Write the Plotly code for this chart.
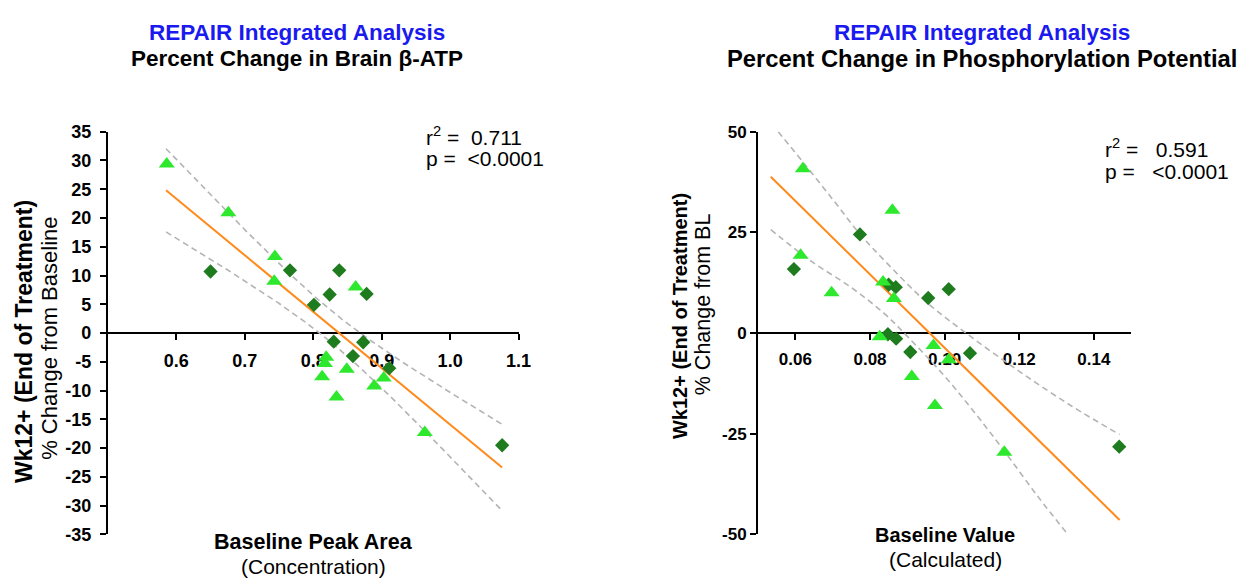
import math
import numpy as np
import plotly.graph_objects as go

W, H = 1257, 585

# ---------------- data: left panel (Brain beta-ATP) ----------------
atp_tri_x = [0.586, 0.676, 0.744, 0.743, 0.862, 0.819, 0.817, 0.813, 0.849, 0.834, 0.889, 0.903, 0.963]
atp_tri_y = [29.4, 20.9, 13.3, 9.0, 8.0, -4.2, -5.3, -7.6, -6.3, -11.1, -9.2, -7.8, -17.3]
atp_dia_x = [0.650, 0.766, 0.838, 0.824, 0.878, 0.801, 0.830, 0.873, 0.858, 0.911, 1.076]
atp_dia_y = [10.7, 10.9, 10.9, 6.7, 6.8, 4.9, -1.5, -1.6, -4.0, -6.1, -19.5]
atp_fit_span = [0.585, 1.076]
atp_xticks = [0.6, 0.7, 0.8, 0.9, 1.0, 1.1]
atp_xticktext = ["0.6", "0.7", "0.8", "0.9", "1.0", "1.1"]
atp_yticks = [-35, -30, -25, -20, -15, -10, -5, 0, 5, 10, 15, 20, 25, 30, 35]
atp_yticktext = ["-35", "-30", "-25", "-20", "-15", "-10", "-5", "0", "5", "10", "15", "20", "25", "30", "35"]

# ---------------- data: right panel (Phosphorylation potential) ----------------
pp_tri_x = [0.0620, 0.0614, 0.0697, 0.0860, 0.0835, 0.0864, 0.0826, 0.0970, 0.1011, 0.0912, 0.0974, 0.1160]
pp_tri_y = [40.8, 19.3, 10.0, 30.5, 12.7, 8.6, -0.9, -3.1, -6.6, -10.8, -18.0, -29.6]
pp_dia_x = [0.0596, 0.0773, 0.0850, 0.0869, 0.0956, 0.1011, 0.0848, 0.0870, 0.0908, 0.1068, 0.1468]
pp_dia_y = [15.9, 24.5, 12.0, 11.4, 8.7, 10.9, -0.3, -1.4, -4.7, -5.0, -28.2]
# regression line and 95% band as drawn in the reference
pp_fit_x = [0.0534, 0.1469]
pp_fit_y = [38.8, -46.4]
pp_ci_up_x = [0.0554, 0.0620, 0.0700, 0.0773, 0.0842, 0.0950, 0.1063, 0.1200, 0.1340, 0.1469]
pp_ci_up_y = [50.0, 42.5, 33.2, 24.6, 17.7, 7.8, -0.4, -9.5, -18.1, -25.2]
pp_ci_lo_x = [0.0534, 0.0640, 0.0750, 0.0840, 0.0904, 0.1000, 0.1080, 0.1160, 0.1250, 0.1325]
pp_ci_lo_y = [25.7, 18.0, 11.3, 4.7, -1.2, -10.7, -19.7, -29.3, -40.6, -49.4]
pp_xticks = [0.06, 0.08, 0.10, 0.12, 0.14]
pp_xticktext = ["0.06", "0.08", "0.10", "0.12", "0.14"]
pp_yticks = [-50, -25, 0, 25, 50]
pp_yticktext = ["-50", "-25", "0", "25", "50"]

TRI_COLOR = "#2EE82E"
DIA_COLOR = "#1E7B1E"
FIT_COLOR = "#FF8A1C"
CI_COLOR = "#B4B4B4"
FONT = "Liberation Sans, Arial, Helvetica, sans-serif"


def t_crit_975(df):
    g = np.linspace(0, 12, 240001)
    c = math.exp(math.lgamma((df + 1) / 2) - math.lgamma(df / 2)) / math.sqrt(df * math.pi)
    pdf = c * (1 + g ** 2 / df) ** (-(df + 1) / 2)
    cdf = 0.5 + np.concatenate([[0], np.cumsum((pdf[1:] + pdf[:-1]) / 2 * np.diff(g))])
    return float(g[np.searchsorted(cdf, 0.975)])


def fit_with_ci(xa, ya, span):
    x = np.asarray(xa, float)
    y = np.asarray(ya, float)
    n = len(x)
    b, a = np.polyfit(x, y, 1)
    resid = y - (a + b * x)
    s = math.sqrt(np.sum(resid ** 2) / (n - 2))
    sxx = np.sum((x - x.mean()) ** 2)
    xs = np.linspace(span[0], span[1], 200)
    yh = a + b * xs
    half = t_crit_975(n - 2) * s * np.sqrt(1 / n + (xs - x.mean()) ** 2 / sxx)
    return xs, yh, yh - half, yh + half


fig = go.Figure()

CI_LINE = dict(color=CI_COLOR, width=1.6, dash="6px,4px")
FIT_LINE = dict(color=FIT_COLOR, width=2)


def add_markers(tx, ty, dx, dy, xa, ya):
    fig.add_trace(go.Scatter(x=dx, y=dy, mode="markers", xaxis=xa, yaxis=ya,
                             marker=dict(symbol="diamond", size=11, color=DIA_COLOR)))
    fig.add_trace(go.Scatter(x=tx, y=ty, mode="markers", xaxis=xa, yaxis=ya,
                             marker=dict(symbol="triangle-up", size=14, color=TRI_COLOR)))


# left panel: least-squares fit with 95% confidence band
xs, yh, lo, hi = fit_with_ci(atp_tri_x + atp_dia_x, atp_tri_y + atp_dia_y, atp_fit_span)
for yy in (hi, lo):
    fig.add_trace(go.Scatter(x=xs, y=yy, mode="lines", xaxis="x", yaxis="y",
                             line=CI_LINE, hoverinfo="skip"))
fig.add_trace(go.Scatter(x=xs, y=yh, mode="lines", xaxis="x", yaxis="y",
                         line=FIT_LINE, hoverinfo="skip"))
add_markers(atp_tri_x, atp_tri_y, atp_dia_x, atp_dia_y, "x", "y")

# right panel
fig.add_trace(go.Scatter(x=pp_ci_up_x, y=pp_ci_up_y, mode="lines", xaxis="x2", yaxis="y2",
                         line=dict(CI_LINE, shape="spline"), hoverinfo="skip"))
fig.add_trace(go.Scatter(x=pp_ci_lo_x, y=pp_ci_lo_y, mode="lines", xaxis="x2", yaxis="y2",
                         line=dict(CI_LINE, shape="spline"), hoverinfo="skip"))
fig.add_trace(go.Scatter(x=pp_fit_x, y=pp_fit_y, mode="lines", xaxis="x2", yaxis="y2",
                         line=FIT_LINE, hoverinfo="skip"))
add_markers(pp_tri_x, pp_tri_y, pp_dia_x, pp_dia_y, "x2", "y2")

ydom = [(H - 543) / H, (H - 126) / H]
ymid = (ydom[0] + ydom[1]) / 2

axis_common = dict(showline=True, linecolor="black", linewidth=2, ticks="outside",
                   ticklen=6, tickwidth=2, tickcolor="black", showgrid=False,
                   zeroline=False, layer="below traces")

fig.update_layout(
    width=W, height=H, margin=dict(l=0, r=0, t=0, b=0),
    paper_bgcolor="white", plot_bgcolor="white", showlegend=False,
    font=dict(family=FONT, color="black"),
    xaxis=dict(domain=[109 / W, 524 / W], range=[0.5, 1.1], anchor="free", position=ymid,
               tickvals=atp_xticks, ticktext=atp_xticktext, ticklabelstandoff=5,
               tickfont=dict(size=18, weight="bold"), **axis_common),
    yaxis=dict(domain=ydom, range=[-35, 35], anchor="x", tickvals=atp_yticks,
               ticktext=atp_yticktext, ticklabelstandoff=5,
               tickfont=dict(size=18, weight="bold"), **axis_common),
    xaxis2=dict(domain=[766 / W, 1143 / W], range=[0.05, 0.15], anchor="free", position=ymid,
                tickvals=pp_xticks, ticktext=pp_xticktext, ticklabelstandoff=5,
                tickfont=dict(size=17, weight="bold"), **axis_common),
    yaxis2=dict(domain=ydom, range=[-50, 50], anchor="x2", tickvals=pp_yticks,
                ticktext=pp_yticktext, ticklabelstandoff=0,
                tickfont=dict(size=17, weight="bold"), **axis_common),
)


def ann(x, y, text, size, bold=False, color="black", angle=0, xanchor="center"):
    fig.add_annotation(x=x / W, y=1 - y / H, xref="paper", yref="paper", text=text,
                       showarrow=False, xanchor=xanchor, yanchor="middle", textangle=angle,
                       font=dict(family=FONT, size=size, color=color,
                                 weight="bold" if bold else "normal"))


# titles
ann(300, 23, "REPAIR Integrated Analysis", 22.5, True, "#1A1AF0")
ann(300, 50, "Percent Change in Brain β-ATP", 22.5, True)
ann(992, 23, "REPAIR Integrated Analysis", 22.5, True, "#1A1AF0")
ann(992, 50, "Percent Change in Phosphorylation Potential", 23.8, True)

# y-axis titles
ann(25, 343, "Wk12+ (End of Treatment)", 23, True, angle=-90)
ann(50, 340, "% Change from Baseline", 22, angle=-90)
ann(687, 317, "Wk12+ (End of Treatment)", 20, True, angle=-90)
ann(710, 305, "% Change from BL", 21.5, angle=-90)

# x-axis titles
ann(317, 551, "Baseline Peak Area", 21.5, True)
ann(317, 576, "(Concentration)", 21)
ann(955, 544, "Baseline Value", 20, True)
ann(955, 569, "(Calculated)", 21)

# statistics
ann(428, 130, "r<sup>2</sup> =\u00a0 0.711", 21, xanchor="left")
ann(428, 154, "p =\u00a0 &lt;0.0001", 21, xanchor="left")
ann(1115, 143, "r<sup>2</sup> =\u00a0\u00a0 0.591", 21, xanchor="left")
ann(1115, 167, "p =\u00a0\u00a0 &lt;0.0001", 21, xanchor="left")

# page body without default margin so the figure fills the window exactly
fig.write_html("out.html", config={"displayModeBar": False},
               post_script="document.body.style.margin='0px';")
